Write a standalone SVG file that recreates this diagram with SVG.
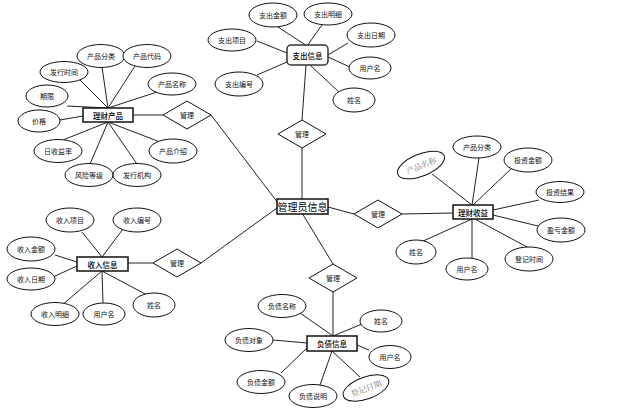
<svg xmlns="http://www.w3.org/2000/svg" width="644" height="415" viewBox="0 0 644 415">
<style>
.l{stroke:#222;stroke-width:1;fill:none}
.e{fill:#fff;stroke:#111;stroke-width:1}
.d{fill:#fff;stroke:#111;stroke-width:1}
.b{fill:#fff;stroke:#111;stroke-width:1.5}
.t{font-family:"Noto Sans CJK SC","Noto Sans",sans-serif;font-size:7px;fill:#111;text-anchor:middle;dominant-baseline:central}
.tb{font-family:"Noto Sans CJK SC","Noto Sans",sans-serif;font-size:7.5px;fill:#000;text-anchor:middle;dominant-baseline:central;font-weight:500}
.tc{font-family:"Noto Sans CJK SC","Noto Sans",sans-serif;font-size:10px;fill:#000;text-anchor:middle;dominant-baseline:central}
.tg{font-family:"Noto Serif CJK SC","Noto Sans CJK SC",serif;font-size:8px;fill:#777;text-anchor:middle;dominant-baseline:central}
</style>
<rect width="644" height="415" fill="#fff"/>
<g id="connectors">
<line class="l" x1="275" y1="25" x2="307" y2="46"/>
<line class="l" x1="322" y1="25" x2="307" y2="46"/>
<line class="l" x1="257" y1="41" x2="287" y2="53"/>
<line class="l" x1="348" y1="43" x2="328" y2="55"/>
<line class="l" x1="328" y1="57" x2="352" y2="68"/>
<line class="l" x1="257" y1="75" x2="287" y2="62"/>
<line class="l" x1="310" y1="65" x2="340" y2="93"/>
<line class="l" x1="306" y1="65" x2="302" y2="120"/>
<line class="l" x1="302" y1="148" x2="302" y2="199"/>
<line class="l" x1="102" y1="67" x2="108" y2="108"/>
<line class="l" x1="135" y1="66" x2="108" y2="108"/>
<line class="l" x1="80" y1="80" x2="108" y2="108"/>
<line class="l" x1="157" y1="92" x2="108" y2="108"/>
<line class="l" x1="67" y1="106" x2="108" y2="108"/>
<line class="l" x1="60" y1="120" x2="83" y2="116"/>
<line class="l" x1="63" y1="140" x2="108" y2="122"/>
<line class="l" x1="90" y1="164" x2="108" y2="122"/>
<line class="l" x1="137" y1="164" x2="108" y2="122"/>
<line class="l" x1="160" y1="142" x2="108" y2="122"/>
<line class="l" x1="133" y1="115" x2="163" y2="115"/>
<line class="l" x1="211" y1="115" x2="278" y2="203"/>
<line class="l" x1="82" y1="232" x2="102" y2="257"/>
<line class="l" x1="123" y1="229" x2="102" y2="257"/>
<line class="l" x1="55" y1="255" x2="77" y2="262"/>
<line class="l" x1="53" y1="277" x2="77" y2="266"/>
<line class="l" x1="62" y1="305" x2="102" y2="271"/>
<line class="l" x1="103" y1="303" x2="102" y2="271"/>
<line class="l" x1="147" y1="295" x2="102" y2="271"/>
<line class="l" x1="128" y1="263" x2="153" y2="263"/>
<line class="l" x1="201" y1="263" x2="277" y2="208"/>
<line class="l" x1="328" y1="207" x2="354" y2="214"/>
<line class="l" x1="402" y1="214" x2="453" y2="213"/>
<line class="l" x1="432" y1="174" x2="472" y2="205"/>
<line class="l" x1="479" y1="158" x2="472" y2="205"/>
<line class="l" x1="512" y1="168" x2="473" y2="205"/>
<line class="l" x1="539" y1="200" x2="493" y2="210"/>
<line class="l" x1="542" y1="227" x2="493" y2="215"/>
<line class="l" x1="527" y1="247" x2="475" y2="219"/>
<line class="l" x1="472" y1="258" x2="472" y2="219"/>
<line class="l" x1="421" y1="242" x2="472" y2="219"/>
<line class="l" x1="302" y1="213" x2="333" y2="264"/>
<line class="l" x1="333" y1="292" x2="333" y2="336"/>
<line class="l" x1="300" y1="313" x2="333" y2="336"/>
<line class="l" x1="362" y1="324" x2="333" y2="336"/>
<line class="l" x1="273" y1="340" x2="307" y2="343"/>
<line class="l" x1="369" y1="350" x2="357" y2="345"/>
<line class="l" x1="281" y1="373" x2="307" y2="348"/>
<line class="l" x1="320" y1="385" x2="332" y2="351"/>
<line class="l" x1="360" y1="377" x2="332" y2="351"/>
</g>
<g id="admin">
<rect class="b" x="277" y="199" width="51" height="15"/>
<text class="tc" x="302.5" y="206.5">管理员信息</text>
</g>
<g id="rel-zhichu">
<polygon class="d" points="302,120 326,134 302,148 278,134"/>
<text class="t" x="302" y="134">管理</text>
</g>
<g id="rel-licai">
<polygon class="d" points="187,101 211,115 187,129 163,115"/>
<text class="t" x="187" y="115">管理</text>
</g>
<g id="rel-shouru">
<polygon class="d" points="177,249 201,263 177,277 153,263"/>
<text class="t" x="177" y="263">管理</text>
</g>
<g id="rel-shouyi">
<polygon class="d" points="378,200 402,214 378,228 354,214"/>
<text class="t" x="378" y="214">管理</text>
</g>
<g id="rel-fuzhai">
<polygon class="d" points="333,264 357,278 333,292 309,278"/>
<text class="t" x="333" y="278">管理</text>
</g>
<g id="zhichu">
<rect x="287" y="45" width="41" height="20" rx="4" fill="#fff" stroke="#333" stroke-width="1.5"/>
<text class="tb" x="307.5" y="55">支出信息</text>
<ellipse class="e" cx="273" cy="15" rx="24" ry="12"/><text class="t" x="273" y="15">支出金额</text>
<ellipse class="e" cx="328" cy="14" rx="24" ry="11"/><text class="t" x="328" y="14">支出明细</text>
<ellipse class="e" cx="232" cy="40" rx="24" ry="11"/><text class="t" x="232" y="40">支出项目</text>
<ellipse class="e" cx="371" cy="35" rx="24" ry="12"/><text class="t" x="371" y="35">支出日期</text>
<ellipse class="e" cx="370" cy="68" rx="21" ry="11"/><text class="t" x="370" y="68">用户名</text>
<ellipse class="e" cx="239" cy="84" rx="24" ry="12"/><text class="t" x="239" y="84">支出编号</text>
<ellipse class="e" cx="354" cy="100" rx="21" ry="12"/><text class="t" x="354" y="100">姓名</text>
</g>
<g id="licai">
<rect class="b" x="83" y="108" width="50" height="14"/>
<text class="tb" x="108" y="115">理财产品</text>
<ellipse class="e" cx="101" cy="56" rx="24" ry="11.5"/><text class="t" x="101" y="56">产品分类</text>
<ellipse class="e" cx="147" cy="56" rx="24" ry="11.5"/><text class="t" x="147" y="56">产品代码</text>
<ellipse class="e" cx="64" cy="72" rx="24" ry="10.5"/><text class="t" x="64" y="72">发行时间</text>
<ellipse class="e" cx="172" cy="84" rx="24" ry="11"/><text class="t" x="172" y="84">产品名称</text>
<ellipse class="e" cx="47" cy="96" rx="21" ry="11"/><text class="t" x="47" y="96">期限</text>
<ellipse class="e" cx="39" cy="121" rx="21" ry="11"/><text class="t" x="39" y="121">价格</text>
<ellipse class="e" cx="58" cy="151" rx="24" ry="11.5"/><text class="t" x="58" y="151">日收益率</text>
<ellipse class="e" cx="173" cy="151" rx="24" ry="12"/><text class="t" x="173" y="151">产品介绍</text>
<ellipse class="e" cx="89" cy="175" rx="24" ry="11.5"/><text class="t" x="89" y="175">风险等级</text>
<ellipse class="e" cx="137" cy="175" rx="24" ry="11.5"/><text class="t" x="137" y="175">发行机构</text>
</g>
<g id="shouru">
<rect class="b" x="77" y="257" width="51" height="14"/>
<text class="tb" x="102.5" y="264">收入信息</text>
<ellipse class="e" cx="70" cy="220" rx="24" ry="12"/><text class="t" x="70" y="220">收入项目</text>
<ellipse class="e" cx="137" cy="220" rx="24" ry="12"/><text class="t" x="137" y="220">收入编号</text>
<ellipse class="e" cx="31" cy="249" rx="24" ry="12"/><text class="t" x="31" y="249">收入金额</text>
<ellipse class="e" cx="31" cy="279" rx="24" ry="11"/><text class="t" x="31" y="279">收入日期</text>
<ellipse class="e" cx="55" cy="314" rx="24" ry="11.5"/><text class="t" x="55" y="314">收入明细</text>
<ellipse class="e" cx="104" cy="314" rx="21" ry="11"/><text class="t" x="104" y="314">用户名</text>
<ellipse class="e" cx="154" cy="305" rx="21" ry="12"/><text class="t" x="154" y="305">姓名</text>
</g>
<g id="shouyi">
<rect class="b" x="453" y="205" width="40" height="14"/>
<text class="tb" x="473" y="212">理财收益</text>
<ellipse class="e" cx="421" cy="165" rx="25" ry="11" transform="rotate(-22 421 165)"/><text class="tg" x="421" y="165" transform="rotate(-22 421 165)">产品名称</text>
<ellipse class="e" cx="477" cy="147" rx="24" ry="11"/><text class="t" x="477" y="147">产品分类</text>
<ellipse class="e" cx="528" cy="160" rx="24" ry="12"/><text class="t" x="528" y="160">投资金额</text>
<ellipse class="e" cx="560" cy="192" rx="24" ry="10.5"/><text class="t" x="560" y="192">投资结果</text>
<ellipse class="e" cx="561" cy="230" rx="24" ry="12"/><text class="t" x="561" y="230">盈亏金额</text>
<ellipse class="e" cx="529" cy="259" rx="24" ry="12"/><text class="t" x="529" y="259">登记时间</text>
<ellipse class="e" cx="467" cy="269" rx="21" ry="11"/><text class="t" x="467" y="269">用户名</text>
<ellipse class="e" cx="416" cy="252" rx="20" ry="12"/><text class="t" x="416" y="252">姓名</text>
</g>
<g id="fuzhai">
<rect class="b" x="307" y="336" width="50" height="15"/>
<text class="tb" x="332" y="343.5">负债信息</text>
<ellipse class="e" cx="282" cy="306" rx="24" ry="11.5"/><text class="t" x="282" y="306">负债名称</text>
<ellipse class="e" cx="381" cy="321" rx="21" ry="11"/><text class="t" x="381" y="321">姓名</text>
<ellipse class="e" cx="249" cy="340" rx="24" ry="11.5"/><text class="t" x="249" y="340">负债对象</text>
<ellipse class="e" cx="390" cy="357" rx="21" ry="11.5"/><text class="t" x="390" y="357">用户名</text>
<ellipse class="e" cx="261" cy="382" rx="24" ry="11.5"/><text class="t" x="261" y="382">负债金额</text>
<ellipse class="e" cx="313" cy="396" rx="24" ry="11.5"/><text class="t" x="313" y="396">负债说明</text>
<ellipse class="e" cx="366" cy="388" rx="24" ry="11" transform="rotate(-20 366 388)"/><text class="tg" x="366" y="388" transform="rotate(-20 366 388)">登记日期</text>
</g>
</svg>
